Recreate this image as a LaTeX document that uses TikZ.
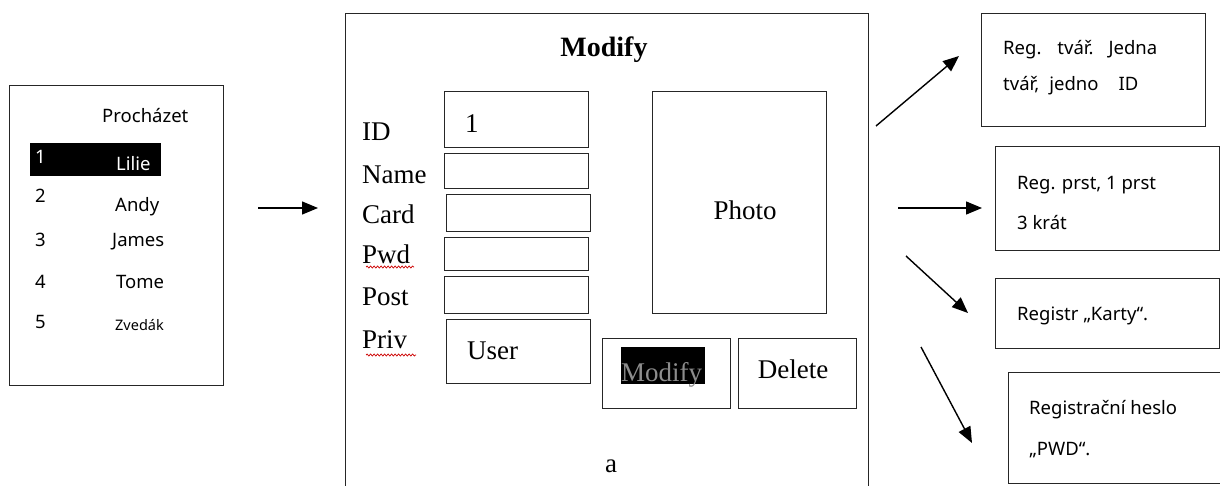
\documentclass[tikz,border=0pt]{standalone}
\usepackage{fontspec}
\setmainfont{Liberation Serif}
\newfontfamily\uisans{Noto Sans}
\usetikzlibrary{arrows.meta,decorations.pathmorphing}
\begin{document}
\begin{tikzpicture}[x=1pt,y=-1pt,
  frame/.style={draw=black!85,line width=1.4pt,inner sep=0pt,anchor=north west},
  ser/.style={font=\fontsize{27}{30}\selectfont,inner sep=0pt,anchor=base west},
  san/.style={font=\uisans\fontsize{18.5}{22}\selectfont,inner sep=0pt,anchor=base west},
  arr/.style={line width=1.4pt,-{Triangle[length=16pt,width=13pt]}},
  spell/.style={red!80!black,line width=0.7pt,decorate,decoration={snake,amplitude=1pt,segment length=3.5pt}}]
\useasboundingbox (0,0) rectangle (1220,486);
\clip (0,0) rectangle (1220,486);

% ---------- left list ----------
\node[frame,minimum width=214pt,minimum height=300pt] (list) at (9,85) {};
\node[san] (head) at (102,123) {Procházet};
\node[fill=black,anchor=north west,inner sep=0pt,minimum width=131pt,minimum height=33pt] (hl) at (30,143) {};
\node[san,text=white] (n1) at (35,164) {1};
\node[san,text=white] (l1) at (116,171) {Lilie};
\node[san] (n2) at (35,203) {2};
\node[san] (l2) at (115,212) {Andy};
\node[san] (n3) at (35,247) {3};
\node[san] (l3) at (112,247) {James};
\node[san] (n4) at (35,288) {4};
\node[san] (l4) at (116,288) {Tome};
\node[san] (n5) at (35,328) {5};
\node[san,font=\uisans\fontsize{14.5}{17}\selectfont] (l5) at (115,330) {Zvedák};

% ---------- centre form ----------
\node[frame,minimum width=523pt,minimum height=500pt] (form) at (345,13) {};
\node[font=\bfseries\fontsize{28}{32}\selectfont,inner sep=0pt,anchor=base] (title) at (604,57) {Modify};

\node[ser] (lid) at (362,141) {ID};
\node[ser] (lname) at (362,184) {Name};
\node[ser] (lcard) at (362,224) {Card};
\node[ser] (lpwd) at (362,263) {Pwd};
\node[ser] (lpost) at (362,305) {Post};
\node[ser] (lpriv) at (362,348) {Priv};
\draw[spell] (366,267) -- (414,267);
\draw[spell] (366,355) -- (416,355);

\node[frame,minimum width=144pt,minimum height=56pt] (fid) at (444,91) {};
\node[ser] (vid) at (465,133) {1};
\node[frame,minimum width=144pt,minimum height=35pt] (fname) at (444,153) {};
\node[frame,minimum width=144pt,minimum height=37pt] (fcard) at (446,194) {};
\node[frame,minimum width=144pt,minimum height=33pt] (fpwd) at (444,237) {};
\node[frame,minimum width=144pt,minimum height=37pt] (fpost) at (444,276) {};
\node[frame,minimum width=144pt,minimum height=64pt] (fpriv) at (446,319) {};
\node[ser] (vpriv) at (467,359) {User};

\node[frame,minimum width=174pt,minimum height=222pt] (photo) at (652,91) {};
\node[ser,anchor=base] (phtxt) at (745,220) {Photo};

\node[frame,minimum width=128pt,minimum height=70pt] (bmod) at (602,338) {};
\node[fill=black,anchor=north west,inner sep=0pt,minimum width=84pt,minimum height=37pt] (bmodhl) at (621,347) {};
\node[ser,text=black!45] (bmodtxt) at (621,381) {Modify};
\node[frame,minimum width=118pt,minimum height=70pt] (bdel) at (738,338) {};
\node[ser,anchor=base] (bdeltxt) at (793,378) {Delete};

\node[ser,anchor=base] (cap) at (611,472) {a};

% ---------- right boxes ----------
\node[frame,minimum width=224pt,minimum height=113pt] (r1) at (981,13) {};
\node[san] (r1a) at (1003,55) {Reg.\hspace{16pt}tvář.\hspace{15pt}Jedna};
\node[san] (r1b) at (1003,91) {tvář,\hspace{10pt}jedno\hspace{20pt}ID};
\node[frame,minimum width=224pt,minimum height=104pt] (r2) at (995,146) {};
\node[san] (r2a) at (1017,190) {Reg. prst, 1 prst};
\node[san] (r2b) at (1017,230) {3 krát};
\node[frame,minimum width=224pt,minimum height=70pt] (r3) at (995,278) {};
\node[san] (r3a) at (1017,320) {Registr „Karty“.};
\node[frame,minimum width=212pt,minimum height=111pt] (r4) at (1008,372) {};
\node[san] (r4a) at (1029,414) {Registrační heslo};
\node[san] (r4b) at (1029,455) {„PWD“.};

% ---------- arrows ----------
\coordinate (a0s) at (258,208); \coordinate (a0e) at (318,208);
\coordinate (a1s) at (876,126); \coordinate (a1e) at (959,56);
\coordinate (a2s) at (898,208); \coordinate (a2e) at (982,208);
\coordinate (a3s) at (906,256); \coordinate (a3e) at (968,313);
\coordinate (a4s) at (921,347); \coordinate (a4e) at (972,443);
\draw[arr] (a0s) -- (a0e);
\draw[arr] (a1s) -- (a1e);
\draw[arr] (a2s) -- (a2e);
\draw[arr] (a3s) -- (a3e);
\draw[arr] (a4s) -- (a4e);
\end{tikzpicture}
\end{document}
